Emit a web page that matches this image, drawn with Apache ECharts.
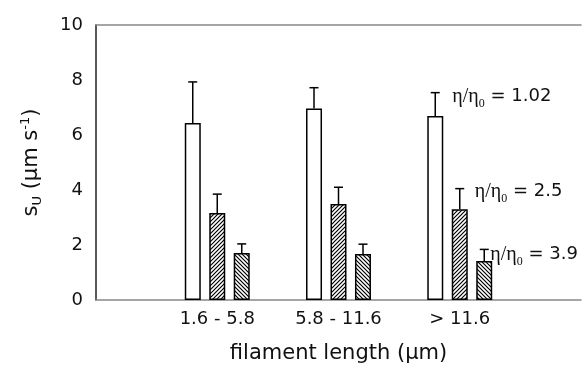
<!DOCTYPE html>
<html>
<head>
<meta charset="utf-8">
<script src="https://cdn.jsdelivr.net/npm/echarts@6/dist/echarts.min.js"></script>
<style>
  html, body { margin: 0; padding: 0; background: #fff; }
  #chart { width: 584px; height: 371px; }
</style>
</head>
<body>
<div id="chart"></div>
<script>
// empty first/last slots so the three groups sit where the original put them
const categories = ['', '1.6 - 5.8', '5.8 - 11.6', '> 11.6', '']
const yTicks = [0, 2, 4, 6, 8, 10]

const visc102 = [null, 6.44, 6.96, 6.69, null]
const visc102Err = [null, 7.93, 7.72, 7.54, null]
const visc25 = [null, 3.16, 3.49, 3.30, null]
const visc25Err = [null, 3.85, 4.10, 4.05, null]
const visc39 = [null, 1.71, 1.67, 1.42, null]
const visc39Err = [null, 2.04, 2.03, 1.84, null]

const ratioLabels = ['1.02', '2.5', '3.9']

const BAR_W = 16
const STEP = 24.5
const SANS = '"DejaVu Sans", sans-serif'
const SERIF = '"Liberation Serif", "Times New Roman", serif'

function hatch(dir) {
  const c = document.createElement('canvas')
  c.width = 4
  c.height = 4
  const ctx = c.getContext('2d')
  ctx.fillStyle = '#fff'
  ctx.fillRect(0, 0, 4, 4)
  ctx.strokeStyle = '#000'
  ctx.lineWidth = 1.2
  ctx.beginPath()
  if (dir === '/') {
    ctx.moveTo(-1, 5); ctx.lineTo(5, -1)
    ctx.moveTo(-1, 1); ctx.lineTo(1, -1)
    ctx.moveTo(3, 5); ctx.lineTo(5, 3)
  } else {
    ctx.moveTo(-1, -1); ctx.lineTo(5, 5)
    ctx.moveTo(3, -1); ctx.lineTo(5, 1)
    ctx.moveTo(-1, 3); ctx.lineTo(1, 5)
  }
  ctx.stroke()
  return { image: c, repeat: 'repeat' }
}

// label offsets next to the caps of the last group
const labelOffsets = [[17, 4], [15, 3], [6, 5]]

function barSeries(values, fill) {
  return {
    type: 'bar',
    data: values,
    barWidth: BAR_W,
    barGap: '53%',
    itemStyle: { color: fill, borderColor: '#000', borderWidth: 1.5 },
    silent: true
  }
}

function errSeries(k, values, errs) {
  const data = values.map((v, i) => (v == null ? null : [i, v, errs[i]])).filter(d => d)
  return {
    type: 'custom',
    silent: true,
    encode: { x: 0, y: [1, 2] },
    data,
    renderItem: (params, api) => {
      const i = api.value(0)
      const base = api.coord([i, api.value(1)])
      const top = api.coord([i, api.value(2)])
      const x = base[0] + (k - 1) * STEP
      const ln = { stroke: '#000', lineWidth: 1.5 }
      const children = [
        { type: 'line', shape: { x1: x, y1: base[1], x2: x, y2: top[1] }, style: ln },
        { type: 'line', shape: { x1: x - 4.5, y1: top[1], x2: x + 4.5, y2: top[1] }, style: ln }
      ]
      if (i === 3) {
        const off = labelOffsets[k]
        children.push({
          type: 'text',
          x: x + off[0],
          y: top[1] + off[1],
          style: {
            text: '{e|η/η}{s|0}{n| = ' + ratioLabels[k] + '}',
            verticalAlign: 'middle',
            rich: {
              e: { fontFamily: SERIF, fontSize: 20, fill: '#111' },
              s: { fontFamily: SERIF, fontSize: 12, fill: '#111', verticalAlign: 'bottom', padding: [14, 0, 0, 0] },
              n: { fontFamily: SANS, fontSize: 18, fill: '#111' }
            }
          }
        })
      }
      return { type: 'group', children }
    },
    z: 5
  }
}

const chart = echarts.init(document.getElementById('chart'))
chart.setOption({
  animation: false,
  backgroundColor: '#fff',
  grid: { left: 96, right: 0, top: 25, bottom: 71 },
  xAxis: [
    {
      type: 'category',
      data: categories,
      boundaryGap: false,
      axisLine: { lineStyle: { color: '#888', width: 1.5 } },
      axisTick: { show: false },
      axisLabel: { color: '#111', fontFamily: SANS, fontSize: 18, margin: 10, interval: 0 },
      name: 'filament length (μm)',
      nameLocation: 'middle',
      nameGap: 43,
      nameTextStyle: { color: '#111', fontFamily: SANS, fontSize: 21 }
    },
    {
      type: 'category',
      data: categories,
      position: 'top',
      boundaryGap: false,
      axisLine: { lineStyle: { color: '#888', width: 1.5 } },
      axisTick: { show: false },
      axisLabel: { show: false }
    }
  ],
  yAxis: {
    type: 'value',
    min: yTicks[0],
    max: yTicks[yTicks.length - 1],
    interval: yTicks[1] - yTicks[0],
    axisLine: { show: true, lineStyle: { color: '#222', width: 1.5 } },
    axisTick: { show: false },
    splitLine: { show: false },
    axisLabel: { color: '#111', fontFamily: SANS, fontSize: 18, margin: 13 },
    name: '{a|s}{sub|U}{a| (μm s}{sup|-1}{a|)}',
    nameLocation: 'middle',
    nameGap: 52,
    nameTextStyle: {
      color: '#111',
      rich: {
        a: { fontFamily: SANS, fontSize: 21, color: '#111' },
        sub: { fontFamily: SANS, fontSize: 13, color: '#111', verticalAlign: 'bottom', padding: [12, 0, 0, 0] },
        sup: { fontFamily: SANS, fontSize: 13, color: '#111', verticalAlign: 'top', padding: [0, 0, 10, 0] }
      }
    }
  },
  series: [
    barSeries(visc102, '#fff'),
    barSeries(visc25, hatch('/')),
    barSeries(visc39, hatch('\\')),
    errSeries(0, visc102, visc102Err),
    errSeries(1, visc25, visc25Err),
    errSeries(2, visc39, visc39Err)
  ]
})
</script>
</body>
</html>
